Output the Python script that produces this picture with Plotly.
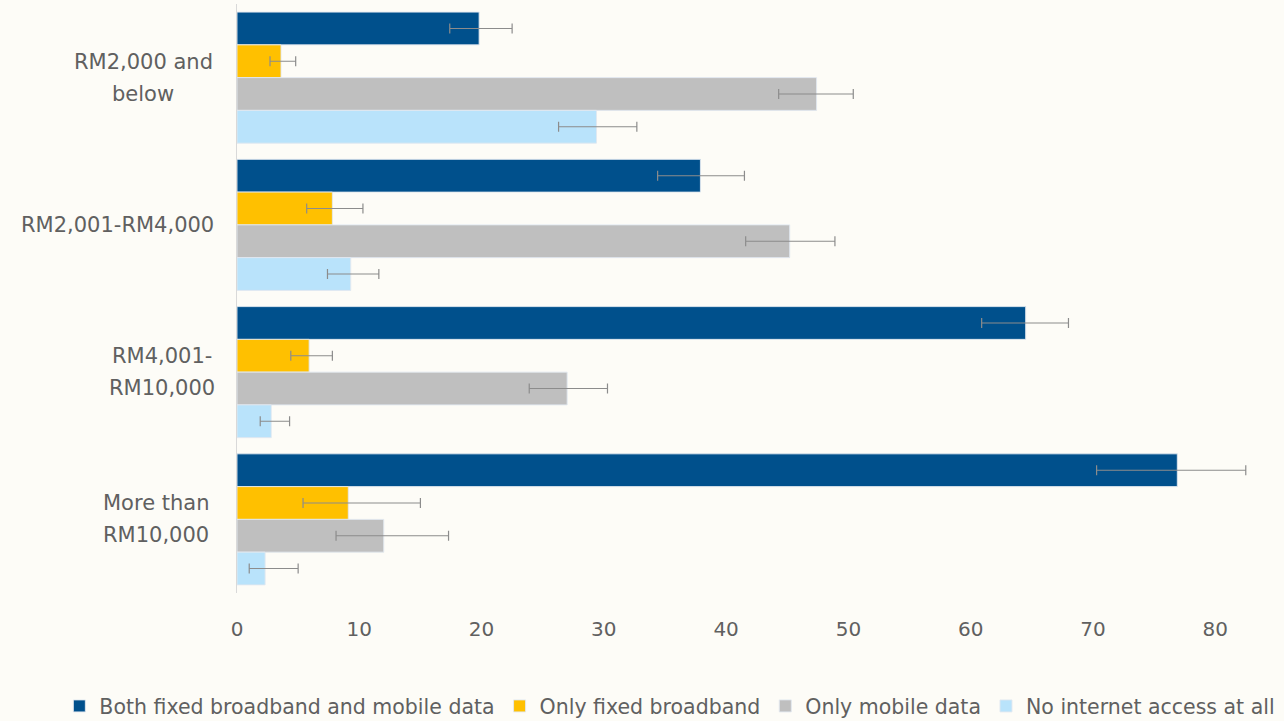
import plotly.graph_objects as go

categories = ["RM2,000 and<br>below", "RM2,001-RM4,000", "RM4,001-<br>RM10,000", "More than<br>RM10,000"]
series_names = ["Both fixed broadband and mobile data", "Only fixed broadband",
                "Only mobile data", "No internet access at all"]
both = [19.8, 37.9, 64.5, 76.9]
both_plus = [2.7, 3.6, 3.5, 5.6]
both_minus = [2.4, 3.5, 3.6, 6.6]
fixed = [3.6, 7.8, 5.9, 9.1]
fixed_plus = [1.2, 2.5, 1.9, 5.9]
fixed_minus = [0.9, 2.1, 1.5, 3.7]
mobile = [47.4, 45.2, 27.0, 12.0]
mobile_plus = [3.0, 3.7, 3.3, 5.3]
mobile_minus = [3.1, 3.6, 3.1, 3.9]
none_ = [29.4, 9.3, 2.8, 2.3]
none_plus = [3.3, 2.3, 1.5, 2.7]
none_minus = [3.1, 1.9, 0.9, 1.3]
x_ticks = [0, 10, 20, 30, 40, 50, 60, 70, 80]

colors = ["#00508C", "#FFC000", "#BFBFBF", "#B9E3FB"]
values = [both, fixed, mobile, none_]
plus = [both_plus, fixed_plus, mobile_plus, none_plus]
minus = [both_minus, fixed_minus, mobile_minus, none_minus]

fig = go.Figure()
for name, col, v, p, m in zip(series_names, colors, values, plus, minus):
    fig.add_trace(go.Bar(
        y=categories, x=v, name=name, orientation="h",
        marker=dict(color=col, line=dict(color="rgba(225,232,240,0.9)", width=1)),
        error_x=dict(type="data", array=p, arrayminus=m, visible=True,
                     color="#8c8c8c", thickness=1.2, width=5),
    ))

font_col = "#606060"
fam = "DejaVu Sans, Verdana, sans-serif"
lab_size = 21
char_w = 12.7  # approx px per character for centering label lines
gap_px = 24

# category labels as annotations (centered lines, wide line spacing)
for cat in categories:
    lines = cat.split("<br>")
    n = len(lines)
    widest = max(len(s) for s in lines) * char_w
    for i, ln in enumerate(lines):
        shift = (n - 1) * 16 - i * 32
        fig.add_annotation(x=0, y=cat, xref="paper", yref="y", text=ln,
                           showarrow=False, xanchor="center", yanchor="middle",
                           xshift=-(gap_px + widest / 2), yshift=shift,
                           font=dict(family=fam, size=lab_size, color=font_col))

fig.update_layout(
    width=1284, height=721,
    barmode="group", bargap=0.11, bargroupgap=0,
    paper_bgcolor="#FDFCF7", plot_bgcolor="#FDFCF7",
    margin=dict(l=237, r=26, t=4, b=128, autoexpand=False),
    showlegend=True,
    legend=dict(orientation="h", x=-0.174, xanchor="left",
                y=-0.192, yanchor="middle",
                font=dict(family=fam, size=20.5, color=font_col),
                itemwidth=30, tracegroupgap=0, traceorder="normal"),
    xaxis=dict(range=[0, 83.5], tickvals=x_ticks, showgrid=False, zeroline=False,
               showline=False, ticks="", ticklabelstandoff=22,
               tickfont=dict(family=fam, size=20, color=font_col)),
    yaxis=dict(autorange="reversed", showticklabels=False, showgrid=False,
               showline=True, linecolor="#D9D9D9", linewidth=1, ticks="", zeroline=False),
)
fig.write_html("out.html", config={"displayModeBar": False})

with open("out.html", "r", encoding="utf-8") as f:
    html = f.read()
html = html.replace("<body>", '<body style="margin:0;background:#FDFCF7;">', 1)
with open("out.html", "w", encoding="utf-8") as f:
    f.write(html)
